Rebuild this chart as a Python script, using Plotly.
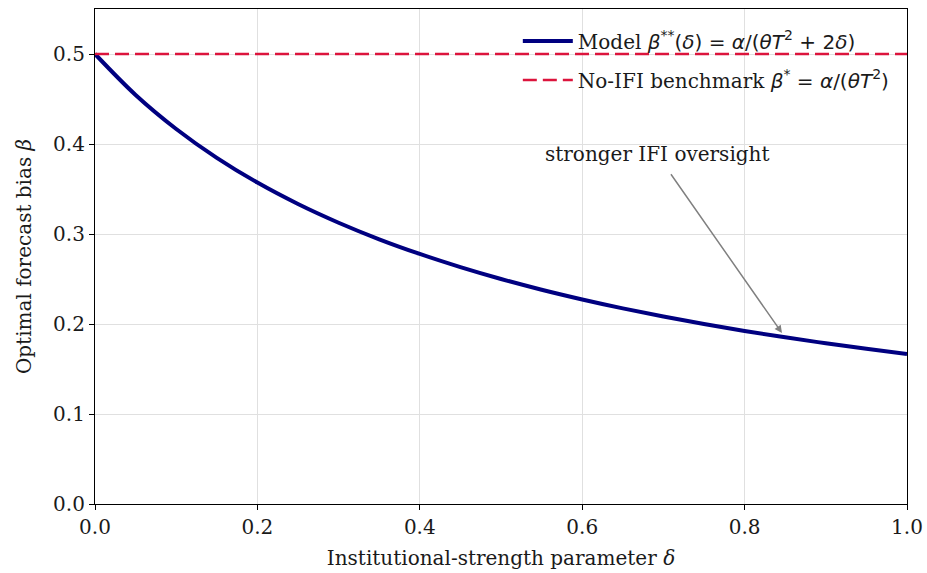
import plotly.graph_objects as go

delta = [0.0, 0.05, 0.1, 0.15, 0.2, 0.25, 0.3, 0.35, 0.4, 0.45, 0.5,
         0.55, 0.6, 0.65, 0.7, 0.75, 0.8, 0.85, 0.9, 0.95, 1.0]
beta_model = [0.5, 0.4545, 0.4167, 0.3846, 0.3571, 0.3333, 0.3125, 0.2941, 0.2778, 0.2632, 0.25,
              0.2381, 0.2273, 0.2174, 0.2083, 0.2, 0.1923, 0.1852, 0.1786, 0.1724, 0.1667]
benchmark_x = [0.0, 1.0]
benchmark_y = [0.5, 0.5]

FONT = "DejaVu Serif"
TXT = "#1a1a1a"

def m(s):
    return "<span style=\"font-family:'DejaVu Sans'\">" + s + "</span>"

fig = go.Figure()
fig.add_trace(go.Scatter(
    x=delta, y=beta_model, mode="lines", line=dict(color="#000080", width=4, shape="spline"),
    legendgroup="a",
    name="Model " + m("<i>β</i><sup>**</sup>(<i>δ</i>) = <i>α</i>/(<i>θT</i><sup>2</sup> + 2<i>δ</i>)")))
fig.add_trace(go.Scatter(
    x=benchmark_x, y=benchmark_y, mode="lines", line=dict(color="#DC143C", width=2.5, dash="14px,6px"),
    legendgroup="b",
    name="No-IFI benchmark " + m("<i>β</i><sup>*</sup> = <i>α</i>/(<i>θT</i><sup>2</sup>)")))

fig.add_annotation(x=0.846, y=0.19, ax=0.708, ay=0.368, xref="x", yref="y", axref="x", ayref="y",
                   text="", showarrow=True, arrowhead=2, arrowsize=1, arrowwidth=1.5, arrowcolor="gray")
fig.add_annotation(x=0.693, y=0.389, xref="x", yref="y", text="stronger IFI oversight",
                   showarrow=False, font=dict(family=FONT, size=20, color=TXT))

axis_common = dict(showline=True, linecolor="black", linewidth=1.2, mirror=True,
                   ticks="outside", ticklen=5, tickcolor="black", automargin=False,
                   showgrid=True, gridcolor="#e0e0e0", gridwidth=1, zeroline=False,
                   tickfont=dict(family=FONT, size=20, color=TXT))
fig.update_xaxes(range=[0, 1], dtick=0.2, tickformat=".1f",
                 title=dict(text="Institutional-strength parameter <i>δ</i>", font=dict(family=FONT, size=20, color=TXT), standoff=12),
                 **axis_common)
fig.update_yaxes(range=[0, 0.55], dtick=0.1, tickformat=".1f",
                 title=dict(text="Optimal forecast bias <i>β</i>", font=dict(family=FONT, size=20, color=TXT), standoff=16),
                 **axis_common)

fig.update_layout(
    width=927, height=573, margin=dict(l=95, r=20, t=9, b=69),
    plot_bgcolor="white", paper_bgcolor="white",
    font=dict(family=FONT, size=20, color=TXT),
    legend=dict(x=0.985, y=0.975, xanchor="right", yanchor="top", bgcolor="rgba(255,255,255,0)",
                font=dict(family=FONT, size=20, color=TXT), tracegroupgap=10, itemwidth=50),
)
fig.write_html("out.html")
